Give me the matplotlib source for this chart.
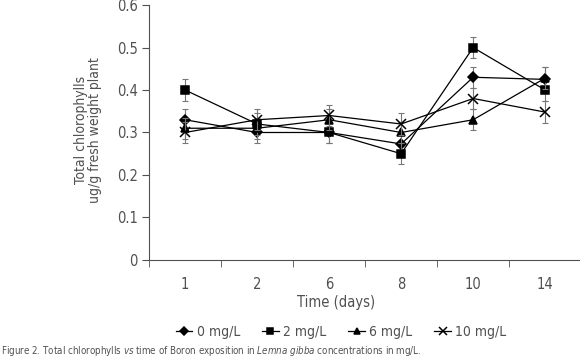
import matplotlib.pyplot as plt
from matplotlib.ticker import FixedLocator, NullFormatter
import numpy as np

plt.rcParams['font.family'] = ['DejaVu Sans']
plt.rcParams['font.stretch'] = 'condensed'

days = ['1', '2', '6', '8', '10', '14']
conc_0 = [0.33, 0.30, 0.30, 0.273, 0.43, 0.425]
conc_2 = [0.40, 0.32, 0.30, 0.25, 0.50, 0.40]
conc_6 = [0.31, 0.31, 0.33, 0.30, 0.33, 0.428]
conc_10 = [0.30, 0.33, 0.34, 0.32, 0.38, 0.348]
err_0 = [0.025, 0.025, 0.025, 0.025, 0.025, 0.03]
err_2 = [0.025, 0.025, 0.025, 0.025, 0.025, 0.025]
err_6 = [0.025, 0.025, 0.025, 0.025, 0.025, 0.025]
err_10 = [0.025, 0.025, 0.025, 0.025, 0.025, 0.025]
labels = ['0 mg/L', '2 mg/L', '6 mg/L', '10 mg/L']

grey = '#505050'
fig = plt.figure(figsize=(5.8, 3.61), dpi=100)
ax = fig.add_axes([0.257, 0.28, 0.745, 0.706])

x = np.arange(len(days))
series = [(conc_0, err_0, 'D', 5), (conc_2, err_2, 's', 5.5),
          (conc_6, err_6, '^', 6), (conc_10, err_10, 'x', 6.5)]
handles = []
for (vals, err, m, ms), lab in zip(series, labels):
    ax.errorbar(x, vals, yerr=err, fmt='none', ecolor='#777777',
                elinewidth=0.8, capsize=2.5, capthick=0.8)
    h, = ax.plot(x, vals, color='black', lw=0.9, marker=m, markersize=ms,
                 markeredgewidth=1.1, label=lab)
    handles.append(h)

ax.set_xlim(-0.5, 5.5)
ax.set_ylim(0, 0.6)
ax.set_yticks(np.arange(0, 0.61, 0.1))
ax.set_yticklabels(['0', '0.1', '0.2', '0.3', '0.4', '0.5', '0.6'])
ax.set_xticks(x)
ax.set_xticklabels(days)
ax.xaxis.set_minor_locator(FixedLocator(np.arange(-0.5, 5.6, 1)))
ax.xaxis.set_minor_formatter(NullFormatter())
ax.tick_params(axis='x', which='major', length=0, pad=12, labelsize=10.5, colors=grey)
ax.tick_params(axis='x', which='minor', length=5, color=grey, direction='out')
ax.tick_params(axis='y', length=5, color=grey, labelsize=10.5, labelcolor=grey, pad=3)
for s in ['top', 'right']:
    ax.spines[s].set_visible(False)
for s in ['left', 'bottom']:
    ax.spines[s].set_color(grey)

fig.text(0.152, 0.64, 'Total chlorophylls\nug/g fresh weight plant', rotation=90,
         ha='center', va='center', fontsize=10, color=grey, linespacing=1.0)
fig.text(0.579, 0.161, 'Time (days)', ha='center', va='center', fontsize=10.5, color=grey)

fig.legend(handles=handles, loc='center', bbox_to_anchor=(0.588, 0.080), ncol=4,
           frameon=False, fontsize=10, handlelength=1.2, handletextpad=0.3,
           columnspacing=1.6, labelcolor=grey, markerscale=0.8)

fig.text(0.002, 0.028, 'Figure 2. Total chlorophylls $\\it{vs}$ time of Boron exposition in '
         '$\\it{Lemna\\ gibba}$ concentrations in mg/L.', ha='left', va='center',
         fontsize=7.0, color=grey)

fig.savefig('out.png', dpi=100)
